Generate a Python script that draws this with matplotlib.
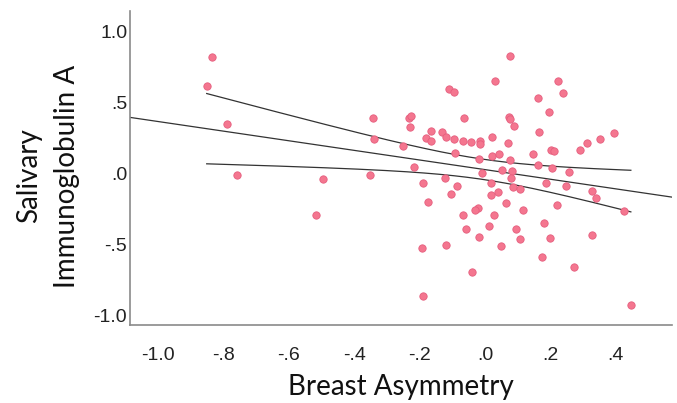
import matplotlib
matplotlib.use("Agg")
import matplotlib.pyplot as plt
import numpy as np

# Breast asymmetry vs. salivary IgA
breast_asym = [
    -0.837, -0.852, -0.789, -0.760, -0.495, -0.518, -0.342, -0.339, -0.352, -0.252,
    -0.232, -0.226, -0.228,
    0.077, 0.031, 0.223, -0.111, -0.094, 0.238, 0.163, 0.196, -0.065, 0.074,
    0.077, 0.088, -0.166, -0.130, 0.166, 0.396, -0.181, -0.164, -0.120, -0.094,
    -0.066, -0.044, -0.014, -0.016, 0.021, 0.070, 0.351, 0.313, 0.292, 0.203,
    0.212, 0.146, -0.091, 0.021, 0.042, -0.017, 0.077, 0.163, 0.206, -0.218,
    0.051, 0.084, 0.258, -0.010, -0.123, 0.081, -0.190, 0.018, 0.188, -0.085,
    0.247, 0.085, 0.106, 0.040, 0.329, -0.104, 0.018, 0.340, -0.174, 0.064,
    0.221, -0.021, -0.031, 0.116, 0.425, -0.066, 0.028, 0.181, 0.013, -0.058,
    0.095, 0.327, -0.017, 0.108, 0.200, -0.193, -0.120, 0.049, 0.175, 0.273,
    -0.041, -0.191, 0.447,
]
salivary_iga = [
    0.819, 0.619, 0.350, -0.007, -0.035, -0.294, 0.388, 0.240, -0.012, 0.195,
    0.388, 0.405, 0.329,
    0.828, 0.652, 0.652, 0.597, 0.572, 0.565, 0.532, 0.435, 0.388, 0.400,
    0.383, 0.332, 0.301, 0.294, 0.294, 0.287, 0.249, 0.230, 0.256, 0.240,
    0.230, 0.221, 0.226, 0.205, 0.254, 0.212, 0.240, 0.212, 0.167, 0.167,
    0.162, 0.138, 0.145, 0.124, 0.138, 0.101, 0.094, 0.061, 0.042, 0.044,
    0.023, 0.016, 0.011, 0.002, -0.028, -0.033, -0.069, -0.069, -0.069, -0.085,
    -0.085, -0.095, -0.111, -0.130, -0.125, -0.141, -0.148, -0.169, -0.203, -0.205,
    -0.224, -0.245, -0.259, -0.257, -0.264, -0.292, -0.290, -0.351, -0.372, -0.391,
    -0.388, -0.431, -0.443, -0.457, -0.455, -0.523, -0.499, -0.506, -0.589, -0.660,
    -0.692, -0.864, -0.921,
]

x_ticks = [-1.0, -0.8, -0.6, -0.4, -0.2, 0.0, 0.2, 0.4]
x_tick_labels = ["-1.0", "-.8", "-.6", "-.4", "-.2", ".0", ".2", ".4"]
y_ticks = [-1.0, -0.5, 0.0, 0.5, 1.0]
y_tick_labels = ["-1.0", "-.5", ".0", ".5", "1.0"]

x = np.array(breast_asym)
y = np.array(salivary_iga)

# linear fit and 95% confidence band of the mean
slope, intercept = np.polyfit(x, y, 1)
n = len(x)
resid = y - (intercept + slope * x)
s = np.sqrt(np.sum(resid ** 2) / (n - 2))
sxx = np.sum((x - x.mean()) ** 2)
t_crit = 1.985

fig = plt.figure(figsize=(6.77, 4.03), dpi=100)
ax = fig.add_axes([0.192, 0.1935, 0.8006, 0.778])

ax.scatter(x, y, s=28, color="#F4768F", edgecolors="#E65E7E", linewidths=0.6, zorder=3)

xlim = (-1.087, 0.573)
xf = np.linspace(xlim[0], xlim[1], 100)
ax.plot(xf, intercept + slope * xf, color="#333333", linewidth=0.9, zorder=2)

xb = np.linspace(x.min(), x.max(), 200)
yb = intercept + slope * xb
half = t_crit * s * np.sqrt(1 / n + (xb - x.mean()) ** 2 / sxx)
ax.plot(xb, yb + half, color="#333333", linewidth=0.9, zorder=2)
ax.plot(xb, yb - half, color="#333333", linewidth=0.9, zorder=2)

ax.set_xlim(*xlim)
ax.set_ylim(-1.065, 1.14)
ax.set_xticks(x_ticks)
ax.set_xticklabels(x_tick_labels)
ax.set_yticks(y_ticks)
ax.set_yticklabels(y_tick_labels)

for lab in ax.get_xticklabels() + ax.get_yticklabels():
    lab.set_fontfamily("Liberation Sans")
    lab.set_fontsize(14)
    lab.set_color("#222222")
ax.tick_params(axis="x", length=0, pad=16)
ax.tick_params(axis="y", length=0, pad=2)

for side in ["top", "right"]:
    ax.spines[side].set_visible(False)
for side in ["left", "bottom"]:
    ax.spines[side].set_color("#8a8a8a")
    ax.spines[side].set_linewidth(1.2)

ax.set_xlabel("Breast Asymmetry", fontfamily="Lato", fontsize=20, color="#111111", labelpad=7)
ax.set_ylabel("Salivary\nImmunoglobulin A", fontfamily="Lato", fontsize=20,
              color="#111111", labelpad=10, linespacing=1.55)
ax.yaxis.label.set_y(0.475)

fig.savefig("out.png", dpi=100, facecolor="white")
